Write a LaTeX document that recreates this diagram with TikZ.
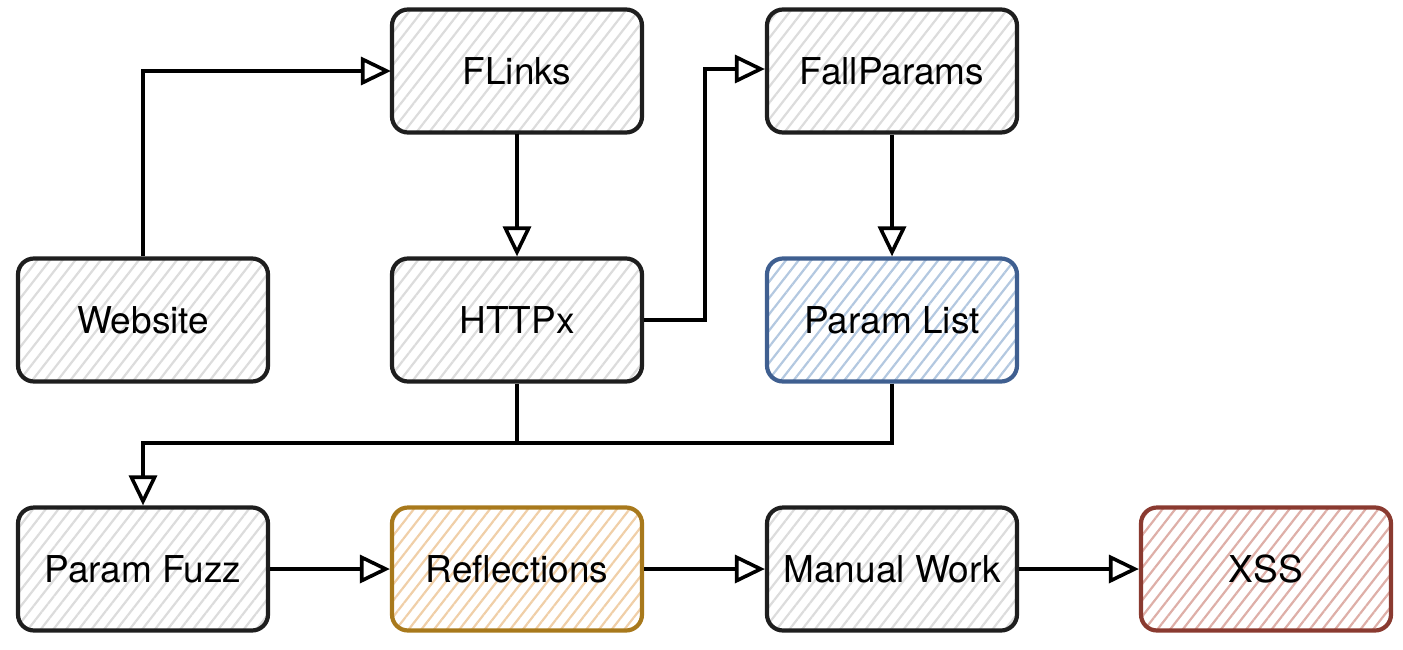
\documentclass[tikz,border=0pt]{standalone}
\usepackage{fontspec}
\setmainfont{TeX Gyre Heros}
\usetikzlibrary{arrows.meta,patterns.meta}
\definecolor{ink}{HTML}{1E1E1E}
\definecolor{grayhatch}{HTML}{DCDCDC}
\definecolor{blueline}{HTML}{3F5F90}
\definecolor{bluehatch}{HTML}{B3C8E0}
\definecolor{goldline}{HTML}{A8791C}
\definecolor{goldhatch}{HTML}{F0CFA8}
\definecolor{redline}{HTML}{8A3A30}
\definecolor{redhatch}{HTML}{DEAFA8}
\tikzset{
  box/.style={draw=ink, line width=2.1pt, rounded corners=8pt, minimum width=125pt, minimum height=61.5pt,
    pattern={Lines[angle=52,distance=5pt,line width=1.1pt]}, pattern color=grayhatch,
    font=\fontsize{18.5}{21}\selectfont, text=black, inner sep=0pt},
  bluebox/.style={box, draw=blueline, pattern color=bluehatch},
  goldbox/.style={box, draw=goldline, pattern color=goldhatch},
  redbox/.style={box, draw=redline, pattern color=redhatch},
  conn/.style={draw=black, line width=1.7pt, -{Triangle[open,length=15pt,width=14pt,line width=1.8pt]}},
  plain/.style={draw=black, line width=1.7pt}
}
\begin{document}
\begin{tikzpicture}[x=0.5pt,y=-0.5pt]
\useasboundingbox (0,0) rectangle (1403,649);
\node[box] (flinks) at (517,71) {FLinks};
\node[box] (fall) at (892,71) {FallParams};
\node[box] (web) at (143,320) {Website};
\node[box] (httpx) at (517,320) {HTTPx};
\node[bluebox] (plist) at (892,320) {Param List};
\node[box] (fuzz) at (143,569) {Param Fuzz};
\node[goldbox] (refl) at (517,569) {Reflections};
\node[box] (manual) at (892,569) {Manual Work};
\node[redbox] (xss) at (1266,569) {XSS};
\coordinate (m1) at (143,443);
\draw[conn] (web.north) |- (flinks.west);
\draw[conn] (flinks.south) -- (httpx.north);
\draw[conn] (httpx.east) -| (705,69) -- (fall.west |- 0,69);
\draw[conn] (fall.south) -- (plist.north);
\draw[plain] (httpx.south) |- (m1);
\draw[conn] (plist.south) |- (m1) -- (fuzz.north);
\draw[conn] (fuzz.east) -- (refl.west);
\draw[conn] (refl.east) -- (manual.west);
\draw[conn] (manual.east) -- (xss.west);
\end{tikzpicture}
\end{document}
